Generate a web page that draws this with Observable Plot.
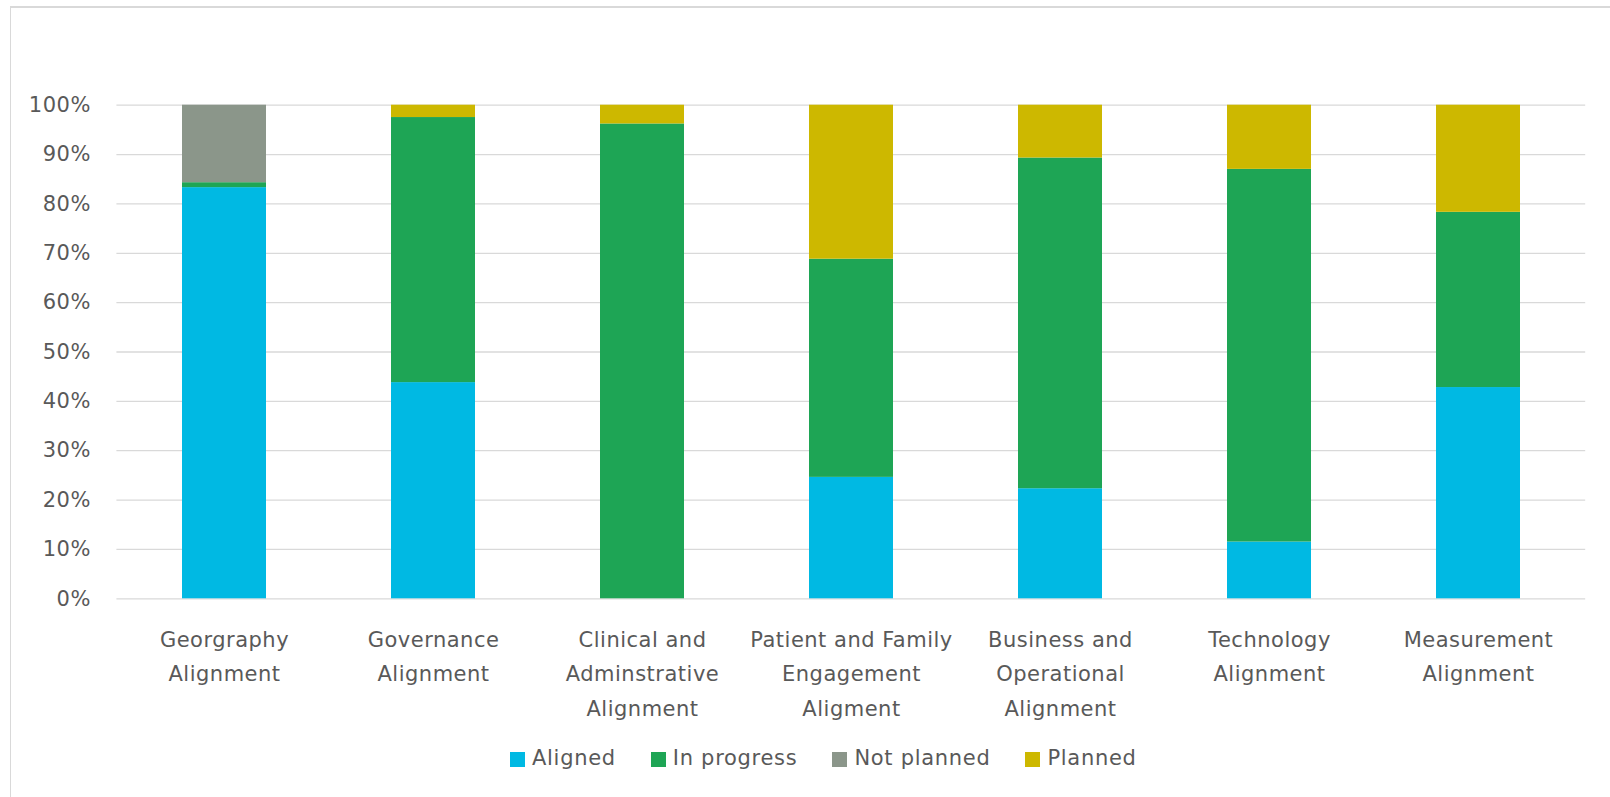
<!DOCTYPE html>
<html>
<head>
<meta charset="utf-8">
<script src="https://cdn.jsdelivr.net/npm/d3@7"></script>
<script src="https://cdn.jsdelivr.net/npm/@observablehq/plot@0.6"></script>
<style>
  html, body { margin: 0; padding: 0; background: #fff; overflow: hidden; width: 1610px; height: 797px; }
  #frame { position: absolute; left: 10px; top: 6px; width: 1700px; height: 900px; border-left: 1px solid #d9d9d9; border-top: 2px solid #d9d9d9; box-sizing: border-box; }
  #chart { position: absolute; left: 0; top: 0; }
  #legend { position: absolute; left: 510px; top: 746px; display: flex; align-items: center; font-family: "DejaVu Sans", sans-serif; font-size: 21px; letter-spacing: 0.7px; color: #595959; }
  .item { display: flex; align-items: center; margin-right: 35px; }
  .sw { width: 15px; height: 15px; margin-right: 7px; margin-top: 3px; }
</style>
</head>
<body>
<div id="frame"></div>
<div id="chart"></div>
<div id="legend"></div>
<script>
const categories = [
  "Georgraphy\nAlignment",
  "Governance\nAlignment",
  "Clinical and\nAdminstrative\nAlignment",
  "Patient and Family\nEngagement\nAligment",
  "Business and\nOperational\nAlignment",
  "Technology\nAlignment",
  "Measurement\nAlignment"
];
const seriesNames = ["Aligned", "In progress", "Not planned", "Planned"];
const aligned    = [83.3, 43.8, 0,    24.6, 22.3, 11.5, 42.8];
const inProgress = [1.0,  53.7, 96.2, 44.2, 67.0, 75.5, 35.5];
const notPlanned = [15.7, 0,    0,    0,    0,    0,    0];
const planned    = [0,    2.5,  3.8,  31.2, 10.7, 13.0, 21.7];
const colors = ["#00b9e3", "#1ea555", "#8b968a", "#cdb800"];
const yTicks = [0, 0.1, 0.2, 0.3, 0.4, 0.5, 0.6, 0.7, 0.8, 0.9, 1.0];

const seriesValues = [aligned, inProgress, notPlanned, planned];
const data = [];
seriesNames.forEach((s, si) => {
  categories.forEach((c, ci) => {
    data.push({category: c, series: s, value: seriesValues[si][ci]});
  });
});

const W = 1610, H = 720;
const chart = Plot.plot({
  width: W,
  height: H,
  marginLeft: 116.4,
  marginRight: W - 1585.2,
  marginTop: 104.7,
  marginBottom: H - 598.3,
  style: {fontFamily: "DejaVu Sans, sans-serif", fontSize: "21px", color: "#595959", background: "transparent", letterSpacing: "0.5px"},
  x: {domain: categories, paddingInner: 0.6, paddingOuter: 0.3, label: null},
  y: {domain: [0, 1], label: null},
  color: {domain: seriesNames, range: colors},
  marks: [
    Plot.ruleY(yTicks, {stroke: "#d9d9d9", strokeWidth: 1.3}),
    Plot.barY(data, Plot.stackY({offset: "normalize"}, {x: "category", y: "value", z: "series", fill: "series", order: seriesNames})),
    Plot.axisY(yTicks, {tickSize: 0, tickPadding: 26, tickFormat: d3.format(".0%"), fontSize: 21, label: null}),
    Plot.axisX({tickSize: 0, tickPadding: 24, fontSize: 21, lineHeight: 1.63, label: null})
  ]
});
document.getElementById("chart").appendChild(chart);

const legend = document.getElementById("legend");
seriesNames.forEach((s, i) => {
  const item = document.createElement("div");
  item.className = "item";
  const sw = document.createElement("div");
  sw.className = "sw";
  sw.style.background = colors[i];
  const t = document.createElement("span");
  t.textContent = s;
  item.appendChild(sw);
  item.appendChild(t);
  legend.appendChild(item);
});
</script>
</body>
</html>
